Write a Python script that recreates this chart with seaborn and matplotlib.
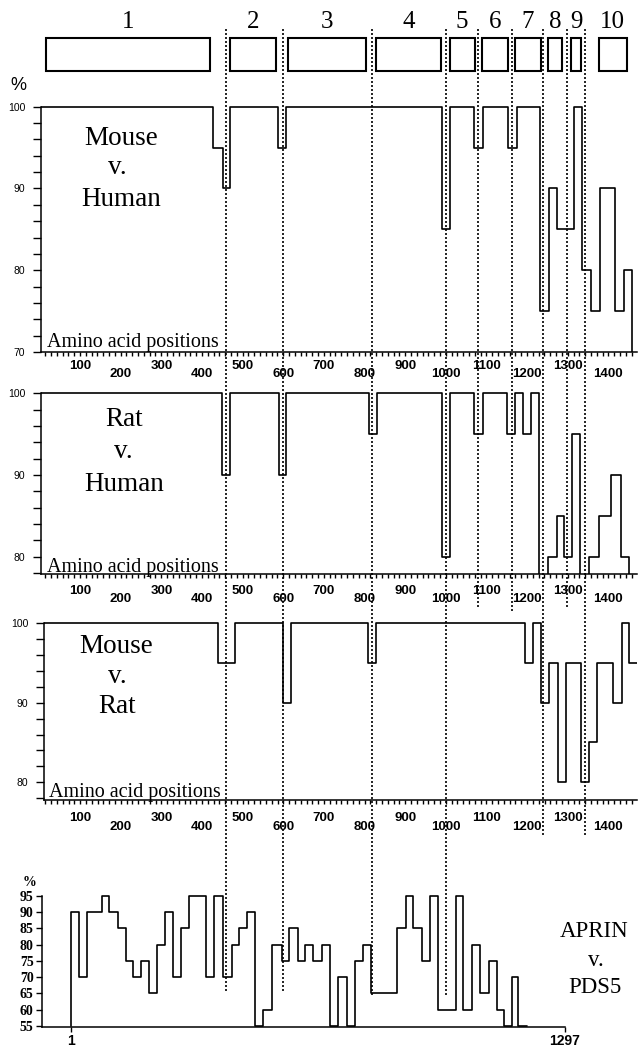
import matplotlib
matplotlib.use("Agg")
import numpy as np
import pandas as pd
import seaborn as sns
import matplotlib.pyplot as plt
from matplotlib import ticker, transforms
from matplotlib.patches import Rectangle

# ---------------- data ----------------
# Mouse v. Human : step breakpoints (amino-acid position) and identity (%)
mh_pos = [4, 428, 451, 469, 588, 608, 990, 1010, 1070, 1092, 1153, 1174, 1232,
          1253, 1274, 1316, 1334, 1357, 1379, 1417, 1439, 1457]
mh_pct = [100, 95, 90, 100, 95, 100, 85, 100, 95, 100, 95, 100, 75,
          90, 85, 100, 80, 75, 90, 75, 80, 70]

# Rat v. Human
rh_pos = [4, 449, 469, 590, 608, 811, 831, 990, 1010, 1069, 1091, 1151, 1171,
          1191, 1210, 1230, 1251, 1273, 1291, 1311, 1330, 1353, 1376, 1406, 1432, 1451]
rh_pct = [100, 90, 100, 90, 100, 95, 100, 80, 100, 95, 100, 95, 100,
          95, 100, 70, 80, 85, 80, 95, 70, 80, 85, 90, 80, 70]

# Mouse v. Rat
mr_pos = [11, 440, 480, 600, 619, 808, 828, 1195, 1215, 1234, 1254, 1277, 1295,
          1333, 1352, 1373, 1412, 1433, 1452, 1471]
mr_pct = [100, 95, 100, 90, 100, 95, 100, 95, 100, 90, 95, 80, 95,
          80, 85, 95, 90, 100, 95, 95]

# APRIN v. PDS5
ap_pos = [1, 1, 23, 43, 84, 102, 124, 145, 165, 185, 207, 228, 249, 270, 291, 312,
          356, 377, 401, 423, 443, 464, 485, 506, 528, 554, 574, 596, 616, 637, 659,
          681, 703, 725, 746, 768, 788, 856, 879, 899, 923, 943, 965, 1011, 1030,
          1054, 1075, 1099, 1120, 1137, 1157, 1175, 1197]
ap_pct = [55, 90, 70, 90, 95, 90, 85, 75, 70, 75, 65, 80, 90, 70, 85, 95,
          70, 95, 70, 80, 85, 90, 55, 60, 80, 75, 85, 75, 80, 75, 80,
          55, 70, 55, 75, 80, 65, 85, 95, 85, 75, 95, 60, 95, 60,
          80, 65, 75, 60, 55, 70, 55, 55]

# domains (boxes) and boundaries (dotted lines)
dom_labels = ["1", "2", "3", "4", "5", "6", "7", "8", "9", "10"]
dom_start = [16, 468, 612, 829, 1010, 1090, 1171, 1251, 1309, 1377]
dom_end = [420, 582, 804, 988, 1071, 1154, 1234, 1287, 1333, 1445]
boundaries = [459, 599, 818, 1000, 1080, 1163, 1240, 1299, 1342]

x_tick_vals = [100, 200, 300, 400, 500, 600, 700, 800, 900, 1000, 1100, 1200, 1300, 1400]
ap_tick_vals = [1, 1297]
ap_y_ticks = [55, 60, 65, 70, 75, 80, 85, 90, 95]

# ---------------- style ----------------
sns.set_theme(style="white")
plt.rcParams["font.family"] = ["Liberation Sans", "DejaVu Sans"]
plt.rcParams["text.color"] = "black"
plt.rcParams["axes.labelcolor"] = "black"
plt.rcParams["xtick.color"] = "black"
plt.rcParams["ytick.color"] = "black"
SERIF = ["Liberation Serif", "DejaVu Serif"]
SANS = ["Liberation Sans", "DejaVu Sans"]

W, H = 640, 1050


def rect(l, t, r, b):
    return [l / W, 1 - b / H, (r - l) / W, (b - t) / H]


fig = plt.figure(figsize=(6.4, 10.5), dpi=100, facecolor="white")


def step_line(ax, pos, pct):
    df = pd.DataFrame({"pos": pos, "pct": pct})
    sns.lineplot(data=df, x="pos", y="pct", ax=ax, drawstyle="steps-post",
                 color="black", linewidth=1.2, estimator=None, sort=False)
    ax.set_xlabel("")
    ax.set_ylabel("")


def species_panel(r, pos, pct, xlim, ylim, offs):
    ax = fig.add_axes(rect(*r))
    ax.set_facecolor("none")
    step_line(ax, pos, pct)
    ax.set_xlim(*xlim)
    ax.set_ylim(*ylim)
    for s in ["top", "right"]:
        ax.spines[s].set_visible(False)
    for s in ["left", "bottom"]:
        ax.spines[s].set_color("black")
        ax.spines[s].set_linewidth(1.1)
    ax.spines["left"].set_bounds(ylim[0], 100)
    ax.xaxis.set_major_locator(ticker.MultipleLocator(100 / 7))
    ax.yaxis.set_major_locator(ticker.MultipleLocator(2))
    ax.yaxis.set_major_formatter(ticker.FuncFormatter(
        lambda v, p: f"{int(round(v))}" if abs(v - round(v / 10) * 10) < 1e-6 else ""))
    ax.tick_params(axis="x", direction="out", length=3.2, width=1.0, color="black",
                   labelbottom=False, bottom=True)
    ax.tick_params(axis="y", direction="out", length=5.8, width=1.0, color="black",
                   labelsize=7.5, labelcolor="black", pad=5.5, left=True)
    base = transforms.blended_transform_factory(ax.transData, ax.transAxes)
    for i, v in enumerate(x_tick_vals):
        dy = -offs[0] if i % 2 == 0 else -offs[1]
        tr = transforms.offset_copy(base, fig=fig, x=0, y=dy, units="dots")
        ax.text(v, 0, str(v), transform=tr, ha="center", va="center",
                fontsize=9.5, fontweight="bold", family=SANS, color="black")
    return ax


ax1 = species_panel((41, 101.8, 636.8, 352), mh_pos, mh_pct, (4, 1470), (70, 100.6), (14, 22))
ax2 = species_panel((41, 388.4, 636.8, 574), rh_pos, rh_pct, (4, 1470), (77.9, 100.6), (17, 25))
ax3 = species_panel((44, 617.9, 636.8, 800), mr_pos, mr_pct, (11, 1470), (77.8, 100.6), (18, 27))

# APRIN v PDS5 panel
ax4 = fig.add_axes(rect(42, 892.5, 565, 1026.6))
ax4.set_facecolor("none")
step_line(ax4, ap_pos, ap_pct)
ax4.set_xlim(-74, 1297)
ax4.set_ylim(54.8, 96)
for s in ["top", "right"]:
    ax4.spines[s].set_visible(False)
for s in ["left", "bottom"]:
    ax4.spines[s].set_color("black")
    ax4.spines[s].set_linewidth(1.1)
ax4.spines["left"].set_bounds(54.8, 95)
ax4.set_yticks(ap_y_ticks)
ax4.set_yticklabels([str(v) for v in ap_y_ticks], family=SERIF, fontweight="bold",
                    fontsize=10, color="black")
ax4.set_xticks(ap_tick_vals)
ax4.set_xticklabels([str(v) for v in ap_tick_vals], family=SANS, fontweight="bold",
                    fontsize=10, color="black")
ax4.tick_params(axis="y", direction="out", length=4.5, width=1.0, color="black", pad=1.5, left=True)
ax4.tick_params(axis="x", direction="out", length=3.5, width=1.0, color="black", pad=1.5, bottom=True)

# overlay for domain boxes and boundary lines
ov = fig.add_axes(rect(41, 0, 636.8, 1050))
ov.set_xlim(4, 1470)
ov.set_ylim(1050, 0)
ov.axis("off")
ov.set_facecolor("none")
line_ends = [993, 992, 997, 995, 609, 611, 837, 607, 837]
for b, e in zip(boundaries, line_ends):
    ov.plot([b, b], [29, e], color="black", linewidth=1.2, linestyle=(0, (1.2, 1.2)))
for lab, s, e in zip(dom_labels, dom_start, dom_end):
    ov.add_patch(Rectangle((s, 37.7), e - s, 33, fill=False, edgecolor="black", linewidth=1.5))
    ov.text((s + e) / 2, 28.5, lab, ha="center", va="baseline", fontsize=18,
            family=SERIF, color="black")


# text labels
def ftext(x, y, s, **kw):
    fig.text(x / W, 1 - y / H, s, color="black", **kw)


ftext(18, 85.5, "%", ha="center", va="center", fontsize=13, family=SANS)
for x, y, s in [(120.7, 145, "Mouse"), (117, 174, "v."), (120.7, 206, "Human"),
                (124.3, 426, "Rat"), (123, 458, "v."), (124, 491, "Human"),
                (116, 653, "Mouse"), (117, 683, "v."), (117, 713, "Rat")]:
    ftext(x, y, s, ha="center", va="baseline", fontsize=19.5, family=SERIF)
for x, y, s in [(594, 937, "APRIN"), (596, 966, "v."), (595, 993, "PDS5")]:
    ftext(x, y, s, ha="center", va="baseline", fontsize=16.5, family=SERIF)
for x, y in [(46.7, 346.7), (46.7, 571.7), (49.3, 796.7)]:
    ftext(x, y, "Amino acid positions", ha="left", va="baseline", fontsize=14.5, family=SERIF)
ftext(30, 882, "%", ha="center", va="center", fontsize=10, family=SERIF, fontweight="bold")

fig.savefig("out.png", dpi=100, facecolor="white")
